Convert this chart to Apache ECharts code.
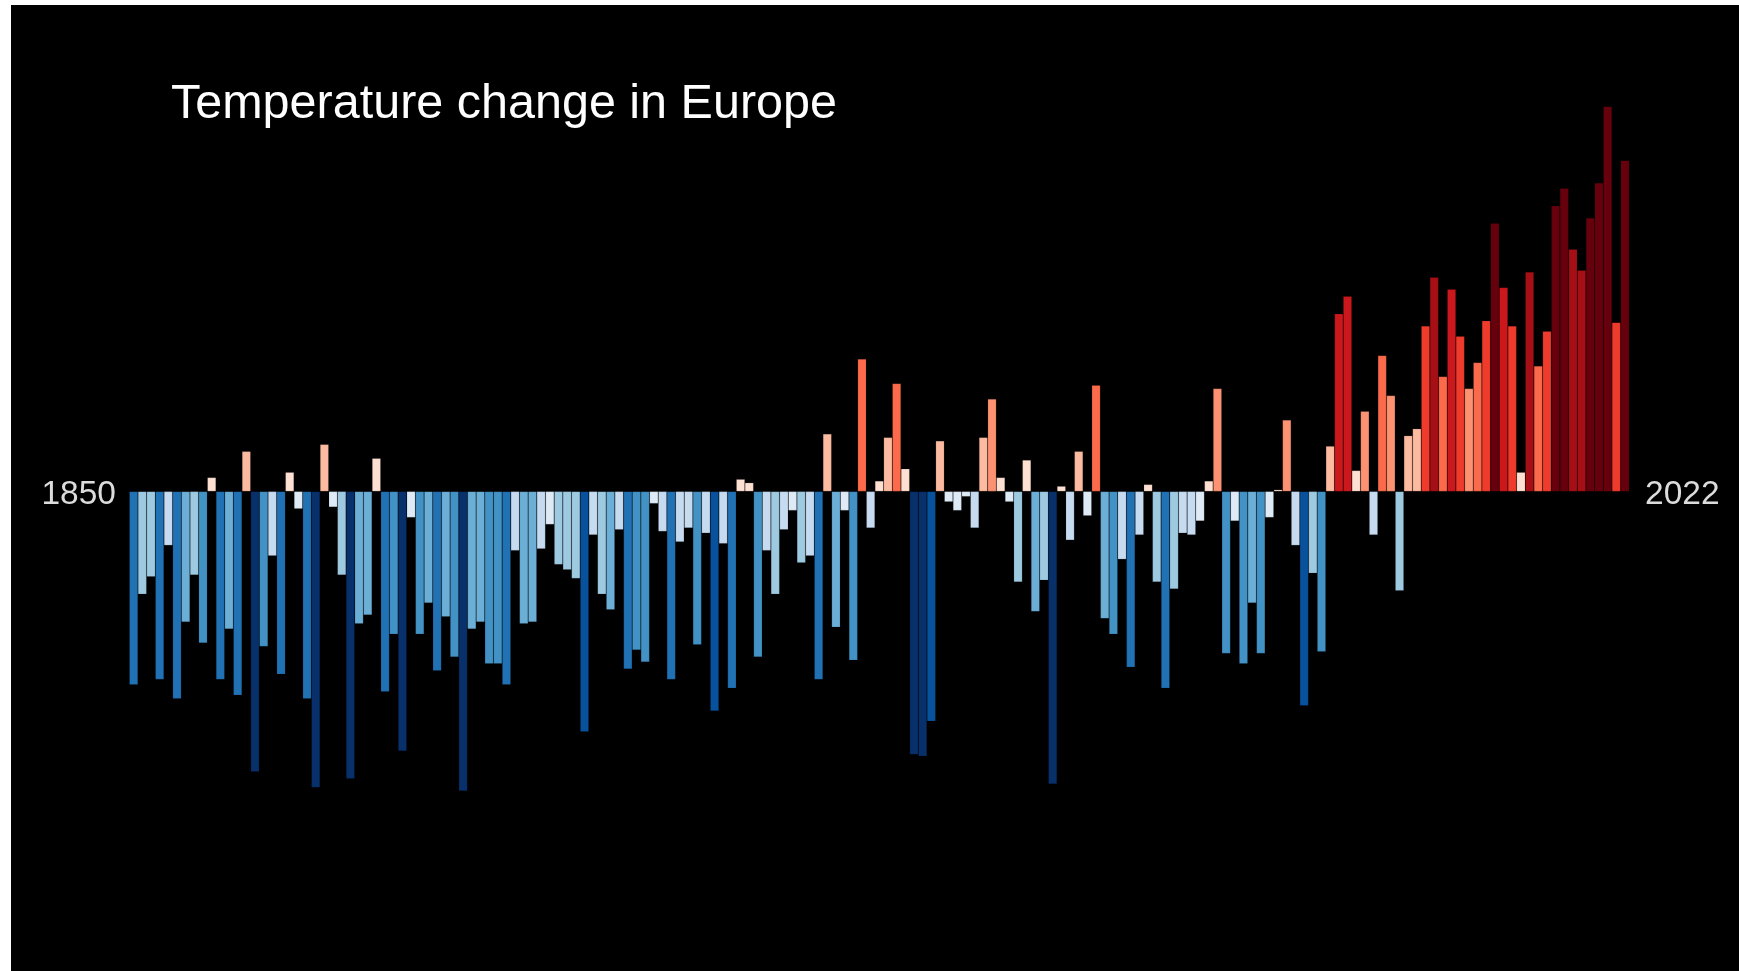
<!DOCTYPE html>
<html>
<head>
<meta charset="utf-8">
<script src="https://cdn.jsdelivr.net/npm/echarts@6/dist/echarts.min.js"></script>
<style>
  html, body { margin: 0; padding: 0; background: #ffffff; width: 1739px; height: 971px; overflow: hidden; }
  #chart { position: absolute; left: 11px; top: 5px; width: 1728px; height: 966px; background: #000000; }
</style>
</head>
<body>
<div id="chart"></div>
<script>
// ---- data (temperature anomaly, °C, 1850-2022) ----
const titleText = 'Temperature change in Europe';
const firstYear = 1850;
const lastYear = 2022;
const anomalies = [
  -1.11, -0.59, -0.49, -1.08, -0.31, -1.19, -0.75, -0.48, -0.87, 0.08,
  -1.08, -0.79, -1.17, 0.23, -1.61, -0.89, -0.37, -1.05, 0.11, -0.10,
  -1.19, -1.70, 0.27, -0.09, -0.48, -1.65, -0.76, -0.71, 0.19, -1.15,
  -0.82, -1.49, -0.15, -0.82, -0.64, -1.03, -0.72, -0.95, -1.72, -0.79,
  -0.75, -0.99, -0.99, -1.11, -0.34, -0.76, -0.75, -0.33, -0.19, -0.42,
  -0.45, -0.50, -1.38, -0.25, -0.59, -0.68, -0.22, -1.02, -0.91, -0.98,
  -0.07, -0.23, -1.08, -0.29, -0.21, -0.88, -0.24, -1.26, -0.30, -1.13,
  0.07, 0.05, -0.95, -0.34, -0.59, -0.22, -0.11, -0.41, -0.37, -1.08,
  0.33, -0.78, -0.11, -0.97, 0.76, -0.21, 0.06, 0.31, 0.62, 0.13,
  -1.51, -1.52, -1.32, 0.29, -0.06, -0.11, -0.03, -0.21, 0.31, 0.53,
  0.08, -0.06, -0.52, 0.18, -0.69, -0.51, -1.68, 0.03, -0.28, 0.23,
  -0.14, 0.61, -0.73, -0.82, -0.39, -1.01, -0.25, 0.04, -0.52, -1.13,
  -0.56, -0.24, -0.25, -0.17, 0.06, 0.59, -0.93, -0.17, -0.99, -0.64,
  -0.93, -0.15, 0.01, 0.41, -0.31, -1.23, -0.47, -0.92, 0.26, 1.02,
  1.12, 0.12, 0.46, -0.25, 0.78, 0.55, -0.57, 0.32, 0.36, 0.95,
  1.23, 0.66, 1.16, 0.89, 0.59, 0.74, 0.98, 1.54, 1.17, 0.95,
  0.11, 1.26, 0.72, 0.92, 1.64, 1.74, 1.39, 1.27, 1.57, 1.77,
  2.21, 0.97, 1.90
];
const years = [];
for (let y = firstYear; y <= lastYear; y++) years.push(String(y));
const edgeLabels = [String(firstYear), String(lastYear)];
// stripe colour scale: bins of 0.2 °C
const binEdges = [-1.4, -1.2, -1.0, -0.8, -0.6, -0.4, -0.2, 0, 0.2, 0.4, 0.6, 0.8, 1.0, 1.2, 1.4];
const stripeColors = ['#08306b','#08519c','#2171b5','#4292c6','#6baed6','#9ecae1','#c6dbef','#deebf7',
                      '#fee0d2','#fcbba1','#fc9272','#fb6a4a','#ef3b2c','#cb181d','#a50f15','#67000d'];

// ---- chart ----
const pieces = [];
for (let k = 0; k < stripeColors.length; k++) {
  const p = { color: stripeColors[k] };
  if (k > 0) p.gte = binEdges[k - 1];
  if (k < binEdges.length) p.lt = binEdges[k];
  pieces.push(p);
}

const chart = echarts.init(document.getElementById('chart'), null, { renderer: 'canvas' });
const font = '"Liberation Sans", Arial, Helvetica, sans-serif';
chart.setOption({
  backgroundColor: '#000000',
  animation: false,
  grid: { left: 118.3, right: 109.7, top: 50.9, bottom: 131.2, containLabel: false },
  xAxis: {
    type: 'category', data: years, show: false, boundaryGap: true
  },
  yAxis: {
    type: 'value', min: -2, max: 2.5, show: false, splitLine: { show: false }
  },
  visualMap: { type: 'piecewise', show: false, seriesIndex: 0, pieces: pieces },
  series: [{
    type: 'bar',
    data: anomalies,
    barCategoryGap: '0%',
    barGap: '0%',
    itemStyle: { borderColor: 'rgba(0,0,0,0.25)', borderWidth: 0.5 }
  }],
  graphic: [
    { type: 'text', left: 160, top: 75,
      style: { text: titleText, fill: '#ffffff', font: '48.5px ' + font } },
    { type: 'text', x: 105, y: 490,
      style: { text: edgeLabels[0], fill: '#dcdcdc', font: '33.5px ' + font, textAlign: 'right', textVerticalAlign: 'middle' } },
    { type: 'text', x: 1634, y: 490,
      style: { text: edgeLabels[1], fill: '#dcdcdc', font: '33.5px ' + font, textAlign: 'left', textVerticalAlign: 'middle' } }
  ]
});
</script>
</body>
</html>
